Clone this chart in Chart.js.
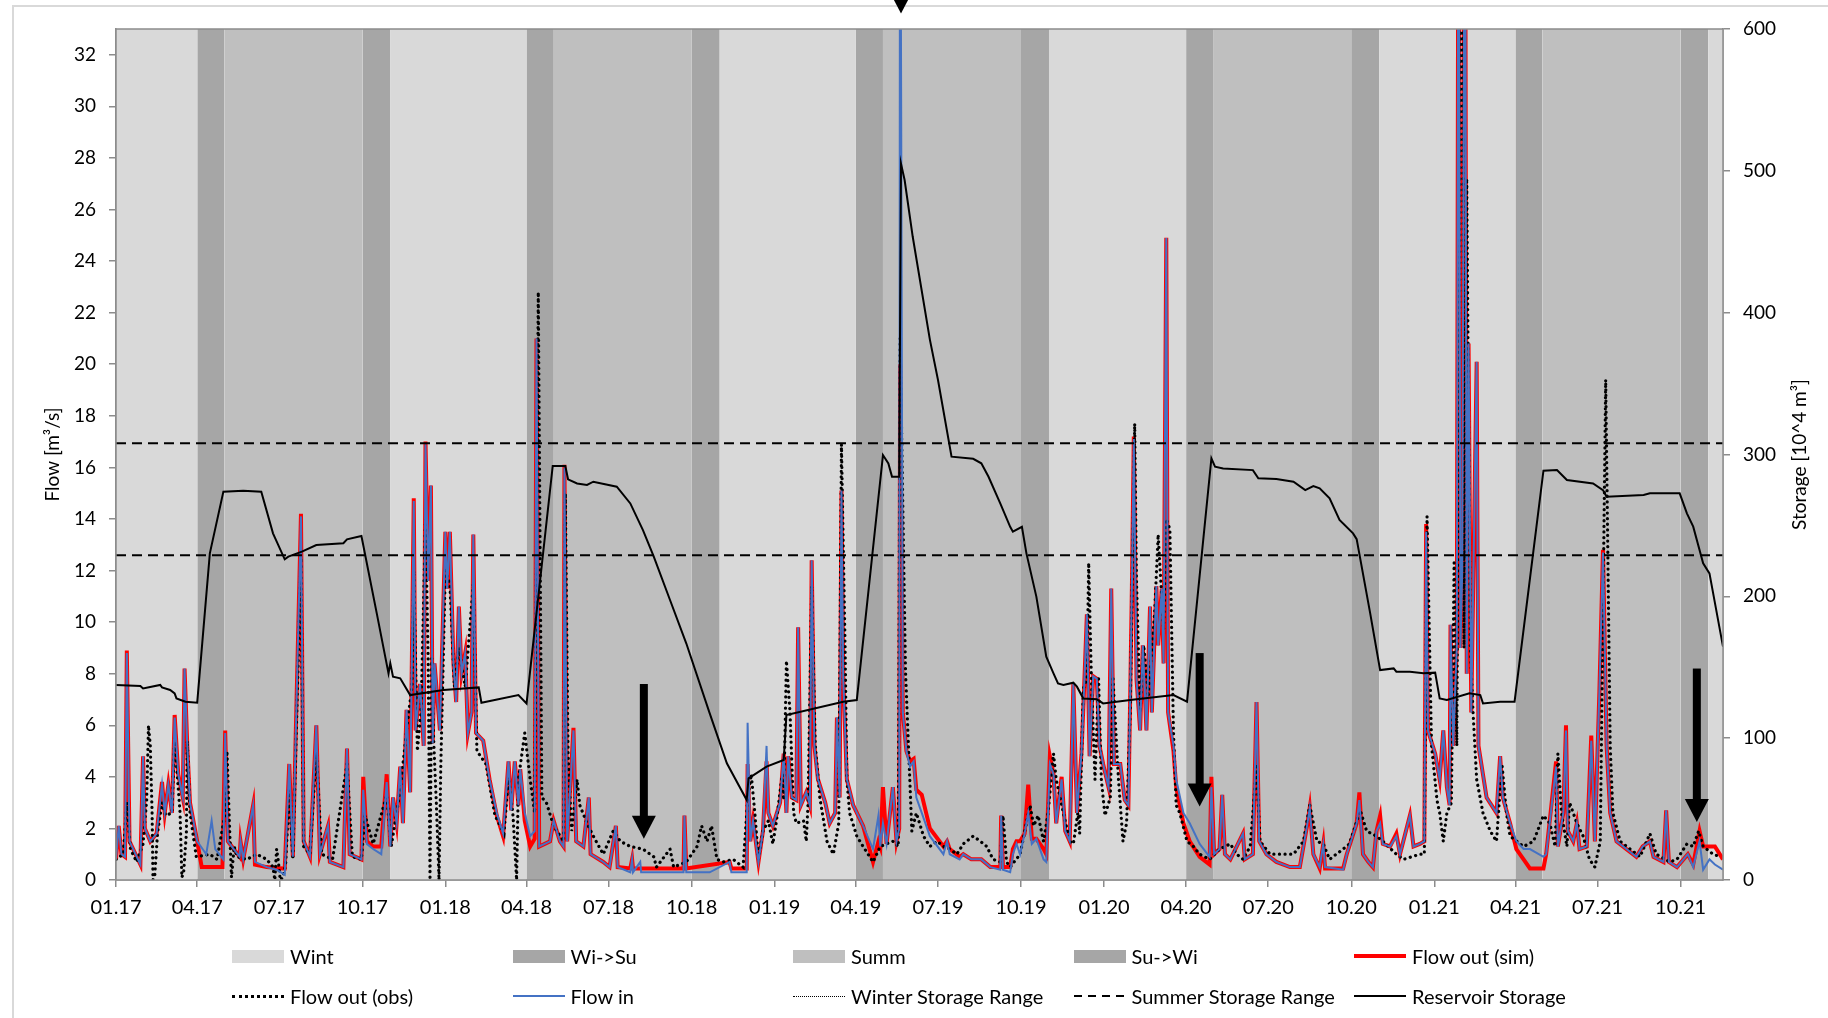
<!DOCTYPE html>
<html>
<head>
<meta charset="utf-8">
<script src="https://cdn.jsdelivr.net/npm/chart.js@4.4.1/dist/chart.umd.min.js"></script>
<style>
    html, body { margin: 0; padding: 0; background: #fff; overflow: hidden; }
    #wrap { position: relative; width: 1828px; height: 1018px; }
    #frame { position: absolute; left: 12px; top: 5px; width: 1900px; height: 1100px; border: 2px solid #d9d9d9; box-sizing: border-box; }
    #chart { position: absolute; left: 0; top: 0; }
    #legend { position: absolute; left: 232px; top: 936px; display: grid; grid-template-columns: repeat(5, 280.5px); grid-auto-rows: 40px; font: 20px Lato, sans-serif; color: #000; }
    .item { display: flex; align-items: center; white-space: nowrap; }
    .sw { width: 52px; margin-right: 6px; flex: none; }
</style>
</head>
<body>
<div id="wrap">
    <div id="frame"></div>
    <canvas id="chart" width="1828" height="1018"></canvas>
    <div id="legend"></div>
</div>
<script>
// x values are days since 01.01.2017
const tickLabels = ['01.17', '04.17', '07.17', '10.17', '01.18', '04.18', '07.18', '10.18', '01.19', '04.19',
    '07.19', '10.19', '01.20', '04.20', '07.20', '10.20', '01.21', '04.21', '07.21', '10.21'];
const xEnd = '2021-11-17';

const wintSpans = [['2017-01-01', '2017-04-01'], ['2017-11-01', '2018-04-01'], ['2018-11-01', '2019-04-01'],
    ['2019-11-01', '2020-04-01'], ['2020-11-01', '2021-04-01'], ['2021-11-01', '2021-11-17']];
const wiSuSpans = [['2017-04-01', '2017-05-01'], ['2018-04-01', '2018-05-01'], ['2019-04-01', '2019-05-01'],
    ['2020-04-01', '2020-05-01'], ['2021-04-01', '2021-05-01']];
const summSpans = [['2017-05-01', '2017-10-01'], ['2018-05-01', '2018-10-01'], ['2019-05-01', '2019-10-01'],
    ['2020-05-01', '2020-10-01'], ['2021-05-01', '2021-10-01']];
const suWiSpans = [['2017-10-01', '2017-11-01'], ['2018-10-01', '2018-11-01'], ['2019-10-01', '2019-11-01'],
    ['2020-10-01', '2020-11-01'], ['2021-10-01', '2021-11-01']];

const flowIn = [[0,0.8],[3,2.1],[6,1.0],[10,0.9],[12,8.8],[15,1.5],[27,0.6],[30,4.8],[32,2.0],[38,1.5],[45,1.8],[51,3.7],[54,2.6],[58,3.7],[62,2.6],[65,6.3],[69,4.1],[74,3.2],[76,8.2],[79,5.2],[82,3.0],
    [90,1.5],[100,1.0],[106,2.3],[110,1.2],[119,0.8],[121,5.7],[124,1.5],[137,0.9],[138,1.5],[141,0.8],[152,2.9],[154,0.7],[167,0.5],[178,0.4],[187,0.2],[192,4.5],[196,0.9],[205,14.1],[208,1.5],[215,0.9],[222,6.0],[226,1.0],[235,2.1],[237,0.7],[252,0.5],[256,5.1],[259,1.0],[272,0.8],
    [274,3.5],[278,1.4],[285,1.2],[294,1.0],[300,3.8],[304,1.3],[307,3.2],[311,2.2],[315,4.4],[318,2.2],[322,6.6],[326,3.4],[328,8.8],[330,14.7],[332,5.8],[337,7.6],[341,5.2],[343,16.9],[346,11.6],[349,15.3],[351,5.3],[353,8.4],[359,5.8],[365,13.5],[367,11.3],[370,13.5],[374,8.4],[377,6.9],[380,10.6],[383,8.0],[387,8.8],[390,5.7],[394,6.5],[396,13.4],[399,5.7],[407,5.4],[414,3.9],[422,2.6],[429,1.8],
    [435,4.6],[438,2.7],[442,4.6],[446,2.9],[448,4.3],[453,2.6],[459,1.7],[464,1.9],[466,21.0],[469,1.3],[481,1.5],[485,2.3],[492,1.5],[496,1.3],[497,16.0],[500,1.5],[507,5.8],[510,1.5],[518,1.3],[524,3.2],[526,1.0],[540,0.7],[547,0.5],[554,2.1],[556,0.5],[570,0.3],[572,0.8],[573,0.3],[581,0.7],[582,0.3],[607,0.3],[629,0.3],[630,2.5],[632,0.3],[658,0.3],[680,0.7],[682,0.3],[699,0.3],
    [700,6.1],[703,1.5],[706,2.3],[712,0.7],[717,1.9],[721,5.2],[723,2.6],[728,2.1],[736,3.0],[740,4.9],[743,2.6],[745,4.8],[749,3.2],[754,3.1],[756,9.8],[759,2.9],[765,3.4],[769,2.9],[771,12.4],[774,5.2],[778,3.9],[786,3.0],[791,2.2],[797,2.6],[799,6.3],[802,3.2],[804,15.1],[806,7.8],[810,3.9],[817,2.9],[828,2.1],[839,1.2],[845,2.5],[847,1.3],[850,2.2],[854,1.4],[861,3.6],[865,1.5],[868,2.0],[869,45],[872,6.5],[876,5.0],[880,4.4],[884,4.6],[887,3.2],[893,2.6],[902,1.7],[917,1.0],[921,1.5],[924,1.0],[935,0.8],[939,1.0],[948,0.8],[959,0.8],[969,0.5],[980,0.4],[981,2.5],[983,0.4],[991,0.3],[994,1.0],[998,1.4],[1002,1.0],[1007,1.8],[1011,2.6],[1015,1.4],[1020,1.6],[1028,0.8],[1031,0.7],
    [1035,4.5],[1039,4.1],[1042,2.2],[1048,3.9],[1052,1.9],[1057,1.5],[1061,7.6],[1065,2.6],[1070,4.9],[1073,7.5],[1076,10.3],[1079,4.8],[1083,7.9],[1087,7.8],[1090,5.2],[1094,4.5],[1100,3.6],[1103,11.3],[1106,4.5],[1113,4.5],[1118,3.1],[1122,2.9],[1124,7.1],[1126,11.6],[1128,17.1],[1131,7.8],[1135,5.8],[1138,9.1],[1142,5.8],[1146,10.6],[1148,6.5],[1153,11.4],[1155,9.1],[1159,11.3],[1161,8.4],[1164,24.9],[1166,6.5],[1172,5.2],[1175,3.9],[1183,2.6],[1190,2.2],[1201,1.4],[1212,0.9],[1214,3.6],[1217,1.0],[1223,1.2],[1226,3.3],[1229,1.0],[1235,0.8],[1249,1.8],[1251,0.8],[1260,1.0],[1264,6.9],[1267,1.5],[1275,1.0],[1286,0.7],[1301,0.5],[1312,0.5],[1320,2.1],[1323,2.8],[1327,1.0],[1334,0.5],[1338,1.4],[1340,0.5],[1360,0.4],[1364,1.0],[1375,2.2],[1378,3.1],[1382,1.0],[1388,0.7],[1393,0.5],[1397,1.9],[1401,2.2],[1404,1.4],[1412,1.3],[1419,1.7],[1423,1.0],[1434,2.5],[1438,1.3],[1445,1.4],[1450,1.5],
    [1452,13.5],[1454,5.8],[1462,4.9],[1467,3.9],[1471,5.8],[1475,3.6],[1478,2.9],[1479,9.9],[1482,5.2],[1486,9.1],[1488,45],[1490,9.0],[1492,12.0],[1495,45],[1497,8.0],[1499,20.8],[1502,6.5],[1508,20.1],[1510,5.2],[1519,3.2],[1530,2.6],[1534,4.8],[1537,3.2],[1545,2.2],[1552,1.5],[1560,1.2],[1567,1.2],[1582,0.9],[1585,1.0],[1596,4.4],[1598,1.3],[1604,2.6],[1607,5.8],[1609,1.9],[1615,1.5],[1619,2.2],[1622,1.2],[1630,1.3],[1635,5.4],[1639,1.5],[1641,3.9],[1644,7.3],[1648,12.7],[1652,5.2],[1656,2.6],[1663,1.5],[1674,1.2],[1685,0.9],[1692,1.3],[1700,1.5],[1704,0.9],[1715,0.7],[1718,2.7],[1721,0.7],[1730,0.5],[1742,1.0],[1748,0.5],[1755,1.5],[1759,0.4],[1766,0.8],[1772,0.6],[1781,0.4]];

const flowOutSim = [[0,0.8],[3,2.1],[6,1.0],[10,0.9],[12,8.9],[15,1.5],[27,0.6],[30,4.8],[32,2.0],[38,1.5],[45,1.8],[51,3.8],[54,2.6],[58,3.7],[62,2.6],[65,6.4],[69,4.1],[74,3.2],[76,8.2],[79,5.2],[82,3.0],
    [90,1.5],[95,0.5],[118,0.5],[121,5.8],[124,1.5],[137,0.9],[138,1.5],[141,0.8],[152,2.9],[154,0.6],[167,0.5],[185,0.45],[187,0.45],[192,4.5],[196,0.9],[205,14.2],[208,1.5],[215,0.9],[222,6.0],[226,1.0],[235,2.1],[237,0.7],[252,0.5],[256,5.1],[259,1.0],[272,0.8],
    [274,4.0],[278,1.5],[285,1.3],[294,1.3],[300,4.1],[304,1.3],[307,3.2],[311,2.2],[315,4.4],[318,2.2],[322,6.6],[326,3.4],[328,8.8],[330,14.8],[332,5.8],[337,7.6],[341,5.2],[343,17.0],[346,11.6],[349,15.3],[351,5.3],[353,8.4],[359,5.8],[365,13.5],[367,11.3],[370,13.5],[374,8.4],[377,6.9],[380,10.6],[383,8.0],[387,8.8],[390,5.7],[394,6.5],[396,13.4],[399,5.7],[407,5.4],[414,3.9],[422,2.5],[429,1.7],
    [435,4.6],[438,2.7],[442,4.6],[446,2.9],[448,4.3],[453,2.3],[459,1.3],[464,1.6],[466,21.0],[469,1.3],[481,1.5],[485,2.3],[492,1.5],[496,1.3],[497,16.1],[500,1.5],[507,5.9],[510,1.5],[518,1.3],[524,3.2],[526,1.0],[540,0.7],[547,0.5],[554,2.1],[556,0.5],[570,0.45],[572,0.8],[573,0.45],[629,0.45],[630,2.5],[632,0.45],[680,0.7],[682,0.45],[699,0.45],
    [700,4.5],[703,1.5],[706,2.3],[712,0.7],[717,1.9],[721,4.6],[723,2.6],[728,2.1],[736,3.0],[740,4.9],[743,2.6],[745,4.8],[749,3.2],[754,3.1],[756,9.8],[759,2.9],[765,3.4],[769,2.9],[771,12.4],[774,5.2],[778,3.9],[786,3.0],[791,2.2],[797,2.6],[799,6.3],[802,3.2],[804,15.1],[806,7.8],[810,3.9],[817,2.9],[828,2.1],[839,0.7],[845,1.5],[847,1.3],[850,3.6],[854,1.4],[861,3.6],[865,1.5],[868,2.0],[869,20.0],[872,6.5],[876,5.0],[880,4.6],[884,4.7],[887,3.5],[893,3.3],[902,2.0],[917,1.3],[921,1.5],[924,1.2],[935,0.9],[939,1.0],[948,0.8],[959,0.8],[969,0.5],[980,0.5],[981,2.5],[983,0.5],[991,0.5],[994,1.2],[998,1.5],[1002,1.5],[1007,1.8],[1011,3.7],[1015,1.6],[1020,1.6],[1028,1.2],[1031,1.0],
    [1035,4.8],[1039,4.1],[1042,2.2],[1048,4.0],[1052,1.9],[1057,1.5],[1061,7.6],[1065,2.6],[1070,4.9],[1073,7.5],[1076,10.3],[1079,4.8],[1083,7.9],[1087,7.8],[1090,5.2],[1094,4.5],[1100,3.6],[1103,11.3],[1106,4.5],[1113,4.5],[1118,3.1],[1122,2.9],[1124,7.1],[1126,11.6],[1128,17.2],[1131,7.8],[1135,5.8],[1138,9.1],[1142,5.8],[1146,10.6],[1148,6.5],[1153,11.4],[1155,9.1],[1159,11.3],[1161,8.4],[1164,24.9],[1166,6.5],[1172,5.0],[1175,3.6],[1183,2.2],[1190,1.5],[1201,0.9],[1212,0.6],[1214,4.0],[1217,1.0],[1223,1.2],[1226,3.3],[1229,1.0],[1235,0.8],[1249,1.8],[1251,0.8],[1260,1.0],[1264,6.9],[1267,1.5],[1275,1.0],[1286,0.7],[1301,0.5],[1312,0.5],[1320,2.1],[1323,2.8],[1327,1.0],[1334,0.45],[1338,1.4],[1340,0.45],[1360,0.45],[1364,1.0],[1375,2.2],[1378,3.4],[1382,1.0],[1388,0.7],[1393,0.5],[1397,1.9],[1401,2.5],[1404,1.4],[1412,1.3],[1419,1.8],[1423,1.0],[1434,2.5],[1438,1.3],[1445,1.4],[1450,1.5],
    [1452,13.8],[1454,5.8],[1462,4.9],[1467,3.9],[1471,5.8],[1475,3.6],[1478,2.9],[1479,9.9],[1482,5.2],[1486,9.1],[1488,45],[1490,9.0],[1492,12.0],[1495,45],[1497,8.0],[1499,20.8],[1502,6.5],[1508,20.1],[1510,5.2],[1519,3.2],[1530,2.6],[1534,4.8],[1537,3.2],[1545,2.2],[1552,1.2],[1560,0.8],[1567,0.45],[1582,0.45],[1585,1.0],[1596,4.6],[1598,1.3],[1604,2.6],[1607,6.0],[1609,1.9],[1615,1.5],[1619,2.2],[1622,1.2],[1630,1.3],[1635,5.6],[1639,1.5],[1641,3.9],[1644,7.3],[1648,12.8],[1652,5.2],[1656,2.6],[1663,1.5],[1674,1.2],[1685,0.9],[1692,1.3],[1700,1.5],[1704,0.9],[1715,0.7],[1718,2.7],[1721,0.7],[1730,0.5],[1742,1.0],[1748,0.6],[1755,1.9],[1759,1.3],[1766,1.3],[1772,1.3],[1781,0.8]];

const flowOutObs = [[0,0.8],[8,1.0],[12,3.0],[16,1.2],[23,0.7],[30,1.4],[34,3.1],[36,6.0],[38,5.2],[40,2.6],[41,0],[43,0.2],[46,1.8],[51,3.0],[55,2.5],[62,2.6],[65,5.5],[68,4.0],[71,2.6],[73,0.1],[75,0.3],[78,1.8],[79,5.4],[82,2.6],[89,0.9],[104,1.0],[112,0.8],[121,2.6],[123,5.0],[126,1.9],[128,0.1],[131,1.3],[134,0.9],[145,0.8],[156,1.0],[167,0.8],[174,0.5],[176,0],[178,1.2],[180,0.7],[182,0],[185,0.1],[188,0.6],[192,3.5],[196,0.8],[205,12.5],[208,1.3],[215,1.0],[222,5.0],[228,1.0],[240,0.8],[256,4.5],[262,0.9],[272,0.8],[276,2.5],[285,1.4],[300,3.3],[305,1.3],[315,3.5],[322,5.8],[328,7.5],[330,12.0],[334,5.0],[338,6.5],[343,14.0],[346,8.5],[348,0],[350,8.6],[352,5.5],[355,3.0],[358,0],[360,4.5],[365,12.0],[370,11.5],[375,7.5],[380,9.0],[387,7.5],[396,11.5],[400,5.0],[410,4.5],[420,2.5],[430,1.8],[435,4.0],[440,2.5],[444,0],[446,3.9],
    [453,5.7],[459,3.9],[464,2.6],[468,22.8],[472,3.2],[477,3.0],[485,2.1],[496,1.5],[498,15.0],[501,4.9],[505,1.9],[511,3.9],[514,2.9],[522,2.2],[529,1.7],[540,1.0],[551,1.9],[559,1.5],[570,1.3],[584,1.2],[596,0.9],[599,0.5],[614,1.2],[618,0.5],[632,0.7],[644,1.3],[649,2.1],[655,1.5],[660,2.1],[666,0.8],[673,0.7],[684,0.8],[695,0.5],[700,3.1],[704,4.1],[708,2.6],[712,0.8],[717,1.9],[723,2.3],[728,1.4],[732,2.3],[738,4.0],[740,3.1],[743,8.5],[747,6.5],[751,2.6],[754,2.2],[762,2.3],[765,1.5],[767,3.0],[771,11.4],[775,5.2],[780,3.2],[788,1.5],[795,1.0],[801,2.2],[804,16.9],[808,9.1],[810,3.9],[813,2.6],[821,1.7],[828,1.3],[839,0.7],[847,1.3],[854,1.4],[861,1.5],[867,1.3],[869,21.0],[875,8.1],[882,1.9],[887,2.6],[895,1.7],[902,1.3],[910,1.5],[917,1.3],[924,1.2],[932,1.0],[939,1.4],[950,1.7],[958,1.5],[965,1.3],[972,0.8],[980,0.7],[983,2.5],[987,0.7],[991,0.5],[1002,1.0],[1013,2.9],[1017,2.1],[1022,2.5],[1028,1.5],[1033,2.6],
    [1039,4.9],[1042,3.9],[1050,2.6],[1057,1.5],[1061,1.4],[1066,2.6],[1068,1.8],[1072,7.4],[1076,7.8],[1078,12.3],[1081,7.8],[1085,3.9],[1089,7.8],[1092,3.9],[1096,2.5],[1102,3.2],[1105,7.8],[1111,3.9],[1116,1.5],[1120,2.2],[1124,6.5],[1129,17.7],[1131,11.6],[1135,6.5],[1139,9.1],[1144,7.1],[1151,10.3],[1155,13.4],[1161,9.7],[1164,14.0],[1168,13.6],[1172,5.7],[1175,2.9],[1179,2.6],[1187,1.5],[1194,1.3],[1201,1.0],[1212,0.8],[1223,1.2],[1235,1.4],[1242,1.0],[1249,0.8],[1257,1.3],[1264,4.4],[1268,1.5],[1279,1.0],[1290,1.0],[1305,1.0],[1316,1.5],[1323,2.9],[1331,1.5],[1338,1.4],[1345,0.8],[1360,1.2],[1367,1.4],[1379,2.7],[1386,1.9],[1397,1.7],[1404,1.5],[1419,1.0],[1427,0.8],[1445,1.0],[1450,1.0],
    [1453,14.1],[1458,5.2],[1464,3.1],[1467,2.6],[1471,1.5],[1475,2.6],[1480,3.0],[1483,12.3],[1486,5.2],[1492,45],[1494,9.0],[1497,27.2],[1501,9.0],[1504,6.5],[1508,3.9],[1515,2.6],[1523,1.9],[1530,1.5],[1536,4.5],[1541,2.6],[1545,1.7],[1560,1.3],[1571,1.5],[1582,2.5],[1589,2.2],[1595,1.3],[1598,4.9],[1602,2.6],[1608,1.3],[1611,3.0],[1619,2.2],[1626,1.7],[1633,0.8],[1639,0.5],[1645,1.5],[1651,19.4],[1656,5.2],[1659,2.6],[1667,1.5],[1678,1.2],[1689,0.9],[1700,1.8],[1707,1.0],[1722,0.7],[1730,0.8],[1741,1.4],[1748,1.3],[1754,1.9],[1759,1.3],[1770,1.0],[1778,0.9]];

// storage in 10^4 m3 (right axis)
const storage = [[0,137.5],[27,136.8],[30,135],[49,137.5],[51,135.8],[60,134],[65,131.6],[67,128],[77,125.7],[90,125],[104,230.3],[119,273.8],[141,274.5],[161,273.8],[174,244.4],[187,226.1],[191,228],[206,231.5],[222,236.2],[252,237.4],[256,240.2],[272,242.5],[289,188],[302,145.7],[304,152.8],[307,143.4],[315,142.2],[326,130.4],[363,134],[402,135.8],[405,125],[446,130.4],[455,124.5],
    [484,291.9],[498,291.9],[501,282.5],[511,279.6],[522,278.5],[529,280.8],[555,277.3],[570,265.5],[584,246.7],[596,228],[614,197.4],[632,166.9],[658,117.5],[677,82.3],[699,56.4],[701,71.7],[721,79.9],[740,84.6],[743,116.3],[806,125.7],[821,126.9],[850,299.6],[856,293.7],[860,284.4],[868,284.4],[870,505],[874,493.5],[883,453.5],[902,381],[911,352.5],[926,298.5],[950,297],[959,293.8],[967,284.3],[980,265.5],[991,249],[994,245.6],[1004,249],[1009,230.3],[1020,199.8],[1031,157.5],[1039,145.7],[1044,138.6],[1050,137.5],[1061,139.1],[1065,136.3],[1072,128],[1087,127.4],[1094,124.5],[1124,126.9],[1172,130.4],[1187,125.7],
    [1214,297.3],[1218,291.4],[1227,290.2],[1260,289],[1266,283.2],[1286,282.7],[1305,280.8],[1318,274.9],[1327,277.8],[1334,276.1],[1345,269.1],[1356,253.8],[1371,244.4],[1375,240.3],[1390,188],[1401,148],[1416,149.2],[1419,146.9],[1434,146.9],[1449,145.7],[1462,146.2],[1467,128],[1475,126.9],[1500,131.6],[1512,130.4],[1515,124.5],[1534,125.7],[1550,125.7],[1582,288.6],[1597,289],[1608,282],[1637,279.6],[1648,274.9],[1652,270.2],[1693,271.4],[1700,272.6],[1733,272.6],[1741,258.5],[1748,249.1],[1759,223.3],[1766,216.2],[1781,164.5]];

const summerRange = [229, 308];
const winterRange = [];

// marker arrows (flow units): day, shaft top, tip
const arrowDays = [870, 585, 1201, 1752];
const arrowFrom = [40, 7.6, 8.8, 8.2];
const arrowTo = [33.6, 1.6, 2.85, 2.25];

function dayOf(s) {
    const [y, m, d] = s.split('-').map(Number);
    return (Date.UTC(y, m - 1, d) - Date.UTC(2017, 0, 1)) / 86400000;
}
const xMax = dayOf(xEnd);
const tickDays = tickLabels.map(l => dayOf('20' + l.slice(3) + '-' + l.slice(0, 2) + '-01'));
const Y_MAX = 33;

function bandPoints(spans) {
    const pts = [];
    spans.forEach(([a, b]) => {
        const s = dayOf(a), e = dayOf(b);
        pts.push({x: s, y: 0}, {x: s, y: Y_MAX}, {x: e, y: Y_MAX}, {x: e, y: 0});
    });
    return pts;
}
const toXY = arr => arr.map(([x, y]) => ({x, y}));

function band(label, spans, color) {
    return {
        type: 'line', label, data: bandPoints(spans), yAxisID: 'y',
        backgroundColor: color, borderWidth: 0, borderColor: 'transparent',
        fill: 'origin', pointRadius: 0, order: 10
    };
}

const datasets = [
    band('Wint', wintSpans, '#D9D9D9'),
    band('Wi->Su', wiSuSpans, '#A6A6A6'),
    band('Summ', summSpans, '#BFBFBF'),
    band('Su->Wi', suWiSpans, '#A6A6A6'),
    {type: 'line', label: 'Flow out (sim)', data: toXY(flowOutSim), yAxisID: 'y', borderColor: '#FF0000',
        borderWidth: 4, pointRadius: 0, order: 6},
    {type: 'line', label: 'Flow out (obs)', data: toXY(flowOutObs), yAxisID: 'y', borderColor: '#000',
        borderWidth: 3.2, borderDash: [0.1, 5.5], borderCapStyle: 'round', pointRadius: 0, order: 5},
    {type: 'line', label: 'Flow in', data: toXY(flowIn), yAxisID: 'y', borderColor: '#4472C4',
        borderWidth: 2, pointRadius: 0, order: 4},
    {type: 'line', label: 'Winter Storage Range', data: winterRange, yAxisID: 'y2', borderColor: '#000',
        borderWidth: 1, borderDash: [1, 2], pointRadius: 0, order: 3},
    ...summerRange.map(v => ({type: 'line', label: 'Summer Storage Range', data: [{x: 0, y: v}, {x: xMax, y: v}],
        yAxisID: 'y2', borderColor: '#000', borderWidth: 2, borderDash: [10, 6], pointRadius: 0, order: 2})),
    {type: 'line', label: 'Reservoir Storage', data: toXY(storage), yAxisID: 'y2', borderColor: '#000',
        borderWidth: 2, pointRadius: 0, order: 1}
];

const extras = {
    id: 'extras',
    afterDraw(chart) {
        const {ctx, chartArea: a, scales} = chart;
        ctx.save();
        // plot frame
        ctx.strokeStyle = '#8c8c8c';
        ctx.lineWidth = 1.5;
        ctx.strokeRect(a.left, a.top, a.right - a.left, a.bottom - a.top);
        // arrows
        ctx.fillStyle = '#000';
        arrowDays.forEach((d, i) => {
            const x = scales.x.getPixelForValue(d);
            const yTop = scales.y.getPixelForValue(arrowFrom[i]);
            const yTip = scales.y.getPixelForValue(arrowTo[i]);
            const headLen = 23;
            ctx.fillRect(x - 4, yTop, 8, yTip - headLen - yTop + 1);
            ctx.beginPath();
            ctx.moveTo(x - 12, yTip - headLen);
            ctx.lineTo(x + 12, yTip - headLen);
            ctx.lineTo(x, yTip);
            ctx.closePath();
            ctx.fill();
        });
        // axis titles
        ctx.font = '19px Lato';
        ctx.fillStyle = '#000';
        ctx.textAlign = 'center';
        ctx.textBaseline = 'middle';
        const cy = (a.top + a.bottom) / 2;
        [[a.left - 63, 'Flow [m³/s]'], [a.right + 77, 'Storage [10^4 m³]']].forEach(([x, t]) => {
            ctx.save();
            ctx.translate(x, cy);
            ctx.rotate(-Math.PI / 2);
            ctx.fillText(t, 0, 0);
            ctx.restore();
        });
        ctx.restore();
    }
};

Chart.defaults.font.family = 'Lato';
Chart.defaults.color = '#000';

new Chart(document.getElementById('chart'), {
    type: 'line',
    data: {datasets},
    options: {
        responsive: false,
        animation: false,
        parsing: true,
        layout: {padding: {top: 29, left: 0, right: 0, bottom: 88}},
        plugins: {legend: {display: false}, tooltip: {enabled: false}},
        scales: {
            x: {
                type: 'linear', min: 0, max: xMax,
                afterBuildTicks: axis => { axis.ticks = tickDays.map(v => ({value: v})); },
                afterFit: axis => { axis.height = 50; },
                ticks: {
                    autoSkip: false, maxRotation: 0, padding: 9, font: {size: 20},
                    callback: v => tickLabels[tickDays.indexOf(v)]
                },
                grid: {drawOnChartArea: false, tickLength: 7, color: '#8c8c8c', lineWidth: 1.5},
                border: {color: '#8c8c8c', width: 1.5}
            },
            y: {
                position: 'left', min: 0, max: Y_MAX,
                afterFit: axis => { axis.width = 116; },
                ticks: {stepSize: 2, includeBounds: false, padding: 13, font: {size: 19}},
                grid: {drawOnChartArea: false, tickLength: 7, color: '#8c8c8c', lineWidth: 1.5},
                border: {color: '#8c8c8c', width: 1.5}
            },
            y2: {
                position: 'right', min: 0, max: 600,
                afterFit: axis => { axis.width = 105; },
                ticks: {stepSize: 100, padding: 13, font: {size: 19}},
                grid: {drawOnChartArea: false, tickLength: 7, color: '#8c8c8c', lineWidth: 1.5},
                border: {color: '#8c8c8c', width: 1.5}
            }
        }
    },
    plugins: [extras]
});

// legend, laid out like the original two-row grid
const legendItems = [
    ['Wint', 'height:13px;background:#D9D9D9'],
    ['Wi->Su', 'height:13px;background:#A6A6A6'],
    ['Summ', 'height:13px;background:#BFBFBF'],
    ['Su->Wi', 'height:13px;background:#A6A6A6'],
    ['Flow out (sim)', 'height:4px;background:#FF0000'],
    ['Flow out (obs)', 'height:0;border-top:3px dotted #000'],
    ['Flow in', 'height:2px;background:#4472C4'],
    ['Winter Storage Range', 'height:0;border-top:1px dotted #000'],
    ['Summer Storage Range', 'height:2px;background:repeating-linear-gradient(to right,#000 0 8px,transparent 8px 14px)'],
    ['Reservoir Storage', 'height:2px;background:#000']
];
const legendEl = document.getElementById('legend');
legendItems.forEach(([label, style]) => {
    const item = document.createElement('div');
    item.className = 'item';
    const sw = document.createElement('span');
    sw.className = 'sw';
    sw.style.cssText = style;
    const txt = document.createElement('span');
    txt.textContent = label;
    item.appendChild(sw);
    item.appendChild(txt);
    legendEl.appendChild(item);
});
</script>
</body>
</html>
